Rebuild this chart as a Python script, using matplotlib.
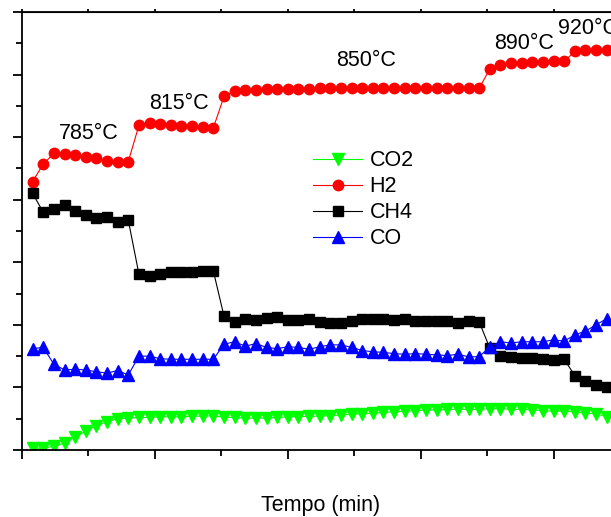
import matplotlib
matplotlib.use('Agg')
import matplotlib.pyplot as plt
from matplotlib.ticker import MultipleLocator, NullFormatter

plt.rcParams['font.family'] = ['Liberation Sans', 'DejaVu Sans']

# tempo de amostragem (min)
tempo = [8, 16, 24, 32, 40, 48, 56, 64, 72, 80,
         88, 96, 104, 112, 120, 128, 136, 144,
         152, 160, 168, 176, 184, 192, 200, 208, 216, 224, 232, 240, 248,
         256, 264, 272, 280, 288, 296, 304, 312, 320, 328, 336, 344,
         352, 360, 368, 376, 384, 392, 400, 408,
         416, 424, 432, 440]

h2 = [42.9, 45.7, 47.4, 47.3, 47.1, 46.9, 46.6, 46.2, 46.1, 46.1,
      51.9, 52.2, 52.1, 51.9, 51.8, 51.8, 51.6, 51.5,
      56.5, 57.4, 57.5, 57.5, 57.7, 57.7, 57.7, 57.7, 57.7, 57.8, 57.8, 57.8, 57.8,
      57.8, 57.9, 57.9, 57.9, 57.9, 57.9, 57.9, 57.9, 57.9, 57.9, 57.9, 57.8,
      60.9, 61.6, 61.8, 61.9, 62.0, 62.0, 62.1, 62.1,
      63.7, 64.0, 64.0, 64.0]

ch4 = [41.0, 38.0, 38.5, 39.1, 38.2, 37.5, 37.1, 37.2, 36.5, 36.7,
       28.1, 27.8, 28.2, 28.5, 28.5, 28.5, 28.6, 28.6,
       21.4, 20.5, 21.0, 20.8, 21.1, 21.3, 20.7, 20.7, 20.9, 20.5, 20.3, 20.3, 20.6,
       20.9, 20.9, 20.9, 20.8, 20.9, 20.6, 20.6, 20.6, 20.6, 20.3, 20.6, 20.5,
       16.3, 15.0, 14.9, 14.7, 14.7, 14.6, 14.4, 14.5,
       11.9, 11.1, 10.4, 10.0]

co = [16.2, 16.4, 13.7, 12.8, 12.9, 12.8, 12.5, 12.3, 12.7, 12.0,
      15.0, 15.0, 14.6, 14.5, 14.5, 14.5, 14.5, 14.5,
      16.9, 17.3, 16.6, 17.0, 16.4, 16.2, 16.5, 16.4, 16.1, 16.5, 16.8, 16.8, 16.4,
      15.9, 15.7, 15.6, 15.4, 15.3, 15.4, 15.3, 15.2, 15.1, 15.3, 14.9, 14.9,
      16.5, 17.3, 17.1, 17.3, 17.3, 17.3, 17.6, 17.4,
      18.4, 19.0, 20.0, 21.0]

co2 = [0.3, 0.3, 0.6, 1.1, 2.1, 3.0, 3.9, 4.5, 5.0, 5.1,
       5.2, 5.2, 5.3, 5.3, 5.3, 5.4, 5.4, 5.5,
       5.2, 5.2, 5.1, 5.1, 5.1, 5.2, 5.3, 5.3, 5.4, 5.4, 5.5, 5.6, 5.7,
       5.8, 5.9, 6.0, 6.1, 6.2, 6.3, 6.4, 6.4, 6.5, 6.5, 6.5, 6.5,
       6.6, 6.6, 6.5, 6.5, 6.4, 6.3, 6.2, 6.2,
       6.1, 5.9, 5.8, 5.3]

# temperaturas e posicao dos rotulos
temps = ['785°C', '815°C', '850°C', '890°C', '920°C']
temp_x = [50, 118, 259, 378, 426]
temp_y = [50.6, 55.3, 62.3, 64.9, 67.4]

fig = plt.figure(figsize=(6.11, 5.17), dpi=100)
ax = fig.add_axes([22/611, 67/517, 598/611, 438/517])

ax.plot(tempo, co2, '-v', color='#00ff00', lw=0.8, ms=8, label='CO2')
ax.plot(tempo, h2, '-o', color='#ff0000', lw=0.8, ms=7.5, label='H2')
ax.plot(tempo, ch4, '-s', color='black', lw=0.8, ms=7, label='CH4')
ax.plot(tempo, co, '-^', color='#0000ff', lw=0.8, ms=8.5, label='CO')

for t, x, y in zip(temps, temp_x, temp_y):
    ax.text(x, y, t, fontsize=15.5, ha='center', va='center')

ax.set_xlim(0, 450)
ax.set_ylim(0, 70)
ax.xaxis.set_major_locator(MultipleLocator(100))
ax.xaxis.set_minor_locator(MultipleLocator(50))
ax.yaxis.set_major_locator(MultipleLocator(10))
ax.yaxis.set_minor_locator(MultipleLocator(5))
ax.xaxis.set_major_formatter(NullFormatter())
ax.yaxis.set_major_formatter(NullFormatter())
ax.tick_params(which='major', direction='out', length=6.5, width=1.3)
ax.tick_params(which='minor', direction='out', length=4, width=1.3)
for s in ax.spines.values():
    s.set_linewidth(1.3)

top = ax.secondary_xaxis('top')
top.xaxis.set_major_locator(MultipleLocator(100))
top.xaxis.set_minor_locator(MultipleLocator(50))
top.xaxis.set_major_formatter(NullFormatter())
top.tick_params(which='both', direction='out', length=2, width=1.3)

ax.set_xlabel('Tempo (min)', fontsize=15.5)
ax.xaxis.set_label_coords(0.5, -0.103)

ax.legend(loc='upper left', bbox_to_anchor=(0.487, 0.684), frameon=False,
          fontsize=15.5, handlelength=2.28, handletextpad=0.33,
          labelspacing=0.23, borderpad=0, borderaxespad=0)

fig.savefig('out.png', dpi=100)
